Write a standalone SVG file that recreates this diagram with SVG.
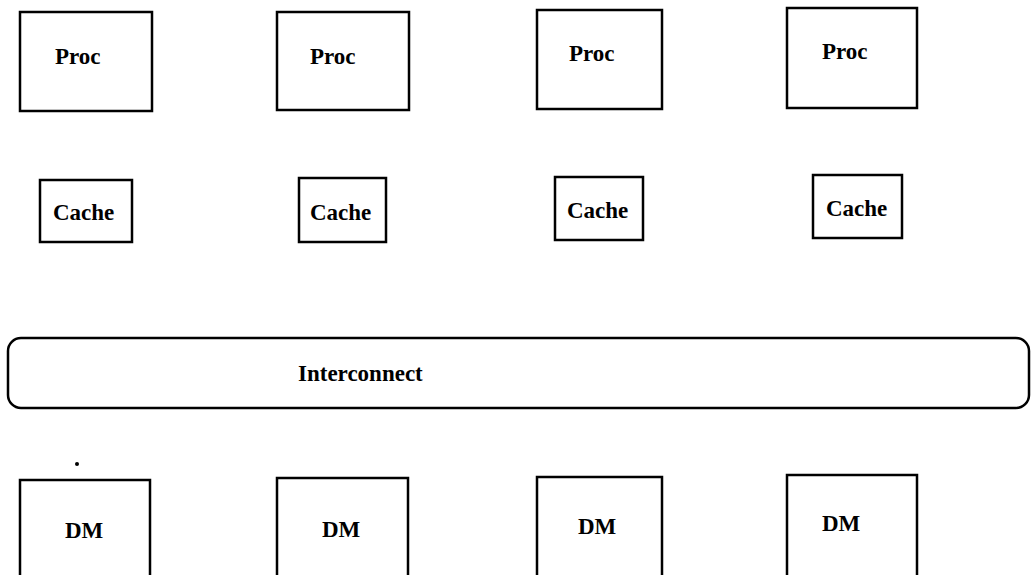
<svg xmlns="http://www.w3.org/2000/svg" width="1031" height="575" viewBox="0 0 1031 575">
<style>
.box{fill:#fff;stroke:#000;stroke-width:2.5}
.lbl{font-family:"Liberation Serif","Times New Roman",serif;font-weight:bold;font-size:23px;fill:#000}
</style>
<rect width="1031" height="575" fill="#fff"/>
<g id="proc1"><rect class="box" x="20" y="12" width="132" height="99"/><text class="lbl" x="55" y="64">Proc</text></g>
<g id="proc2"><rect class="box" x="277" y="12" width="132" height="98"/><text class="lbl" x="310" y="64">Proc</text></g>
<g id="proc3"><rect class="box" x="537" y="10" width="125" height="99"/><text class="lbl" x="569" y="61">Proc</text></g>
<g id="proc4"><rect class="box" x="787" y="8" width="130" height="100"/><text class="lbl" x="822" y="59">Proc</text></g>
<g id="cache1"><rect class="box" x="40" y="180" width="92" height="62"/><text class="lbl" x="53" y="220">Cache</text></g>
<g id="cache2"><rect class="box" x="299" y="178" width="87" height="64"/><text class="lbl" x="310" y="220">Cache</text></g>
<g id="cache3"><rect class="box" x="555" y="177" width="88" height="63"/><text class="lbl" x="567" y="218">Cache</text></g>
<g id="cache4"><rect class="box" x="813" y="175" width="89" height="63"/><text class="lbl" x="826" y="216">Cache</text></g>
<g id="interconnect"><rect class="box" x="8" y="338" width="1021" height="70" rx="13"/><text class="lbl" x="298" y="381">Interconnect</text></g>
<g id="dm1"><rect class="box" x="20" y="480" width="130" height="100"/><text class="lbl" x="65" y="538">DM</text></g>
<g id="dm2"><rect class="box" x="277" y="478" width="131" height="102"/><text class="lbl" x="322" y="537">DM</text></g>
<g id="dm3"><rect class="box" x="537" y="477" width="125" height="103"/><text class="lbl" x="578" y="534">DM</text></g>
<g id="dm4"><rect class="box" x="787" y="475" width="130" height="105"/><text class="lbl" x="822" y="531">DM</text></g>
<circle cx="77" cy="464" r="2" fill="#000"/>
<g id="connectors"></g>
</svg>
